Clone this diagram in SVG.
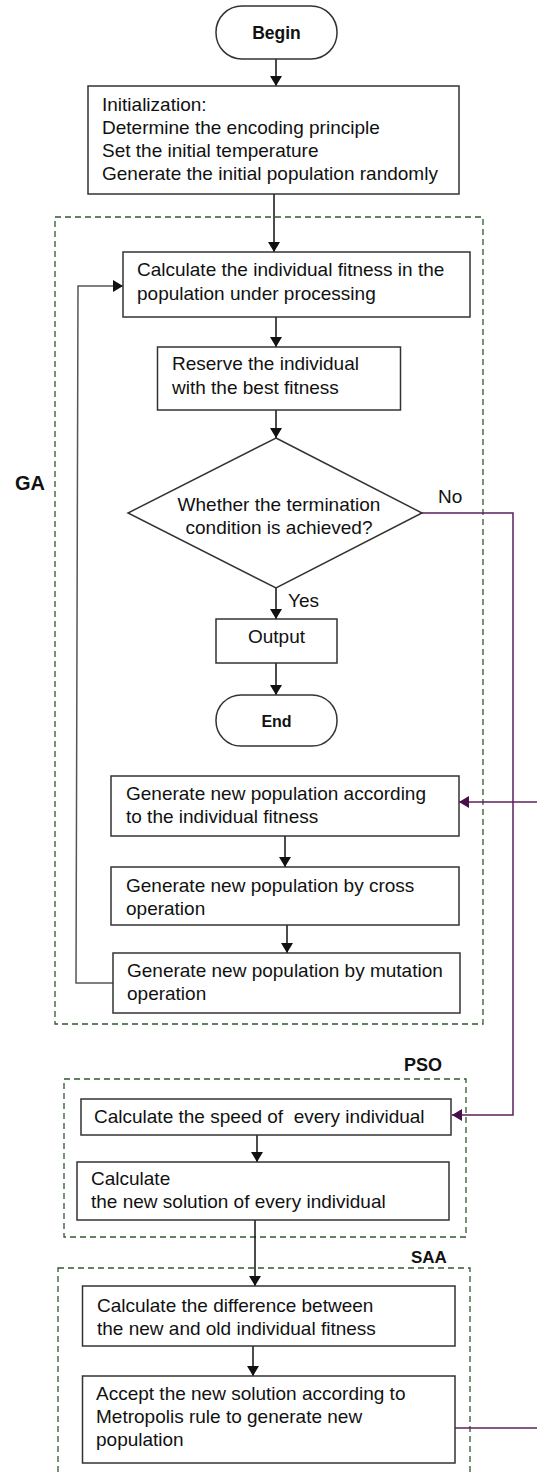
<svg xmlns="http://www.w3.org/2000/svg" width="537" height="1474" viewBox="0 0 537 1474">
<defs>
<style>
.box{fill:#fff;stroke:#333;stroke-width:1.5}
.grp{fill:none;stroke:#2f5a2f;stroke-width:1.3;stroke-dasharray:6,4}
.t{font-family:"Liberation Sans",Arial,sans-serif;font-size:19px;fill:#111}
.b{font-family:"Liberation Sans",Arial,sans-serif;font-weight:bold;fill:#111}
.c{fill:none;stroke:#111;stroke-width:1.5}
.g{fill:none;stroke:#555;stroke-width:1.5}
.p{fill:none;stroke:#5c1f5c;stroke-width:1.5}
</style>
<marker id="ah" viewBox="0 0 10 12" refX="10" refY="6" markerWidth="10" markerHeight="12" markerUnits="userSpaceOnUse" orient="auto"><path d="M0,0 L10,6 L0,12 z" fill="#111"/></marker>
<marker id="ap" viewBox="0 0 10 12" refX="10" refY="6" markerWidth="10" markerHeight="12" markerUnits="userSpaceOnUse" orient="auto"><path d="M0,0 L10,6 L0,12 z" fill="#4a0f4a"/></marker>
</defs>
<rect width="537" height="1474" fill="#fff"/>

<g id="groups">
<rect id="ga-group" class="grp" x="55" y="217" width="428" height="807"/>
<text class="b" x="15" y="490" font-size="20">GA</text>
<rect id="pso-group" class="grp" x="64" y="1079" width="402" height="158"/>
<text class="b" x="404" y="1071" font-size="18">PSO</text>
<rect id="saa-group" class="grp" x="58" y="1268" width="412" height="220"/>
<text class="b" x="411" y="1263" font-size="17">SAA</text>
</g>

<g id="connectors">
<line class="c" x1="276" y1="59" x2="276" y2="86" marker-end="url(#ah)"/>
<line class="c" x1="274" y1="194" x2="274" y2="252" marker-end="url(#ah)"/>
<line class="c" x1="276" y1="317" x2="276" y2="347" marker-end="url(#ah)"/>
<line class="c" x1="276" y1="410" x2="276" y2="438" marker-end="url(#ah)"/>
<line class="c" x1="276" y1="588" x2="276" y2="619" marker-end="url(#ah)"/>
<line class="c" x1="276" y1="663" x2="276" y2="695" marker-end="url(#ah)"/>
<line class="c" x1="285" y1="836" x2="285" y2="867" marker-end="url(#ah)"/>
<line class="c" x1="287" y1="925" x2="287" y2="953" marker-end="url(#ah)"/>
<polyline class="g" points="113,983 76,983 78,286 123,286" marker-end="url(#ah)"/>
<polyline class="p" points="422,513 513,513 513,1115 452,1115" marker-end="url(#ap)"/>
<line class="p" x1="540" y1="802" x2="459" y2="802" marker-end="url(#ap)"/>
<line class="c" x1="257" y1="1135" x2="257" y2="1162" marker-end="url(#ah)"/>
<line class="c" x1="255" y1="1220" x2="255" y2="1286" marker-end="url(#ah)"/>
<line class="c" x1="253" y1="1346" x2="253" y2="1376" marker-end="url(#ah)"/>
<line class="p" x1="455" y1="1428" x2="540" y2="1428"/>
<text class="t" x="438" y="503">No</text>
<text class="t" x="288" y="607">Yes</text>
</g>

<g id="begin">
<rect class="box" x="216" y="6" width="121" height="53" rx="26"/>
<text class="b" x="276.5" y="39" font-size="17.5" text-anchor="middle">Begin</text>
</g>
<g id="init">
<rect class="box" x="88" y="86" width="371" height="108"/>
<text class="t" x="102" y="111">Initialization:</text>
<text class="t" x="102" y="134">Determine the encoding principle</text>
<text class="t" x="102" y="157">Set the initial temperature</text>
<text class="t" x="102" y="180">Generate the initial population randomly</text>
</g>
<g id="calc-fitness">
<rect class="box" x="123" y="252" width="347" height="65"/>
<text class="t" x="137" y="276">Calculate the individual fitness in the</text>
<text class="t" x="137" y="300">population under processing</text>
</g>
<g id="reserve">
<rect class="box" x="157.5" y="347" width="243" height="63"/>
<text class="t" x="172" y="370">Reserve the individual</text>
<text class="t" x="172" y="394">with the best fitness</text>
</g>
<g id="decision">
<polygon class="box" points="276,438 422,513 276,588 128,513"/>
<text class="t" x="279" y="511" text-anchor="middle">Whether the termination</text>
<text class="t" x="279" y="534" text-anchor="middle">condition is achieved?</text>
</g>
<g id="output">
<rect class="box" x="216" y="619" width="121" height="44"/>
<text class="t" x="276.5" y="643" text-anchor="middle">Output</text>
</g>
<g id="end">
<rect class="box" x="216" y="695" width="121" height="51" rx="25"/>
<text class="b" x="276.5" y="727" font-size="16" text-anchor="middle">End</text>
</g>
<g id="gen-fitness">
<rect class="box" x="111" y="776" width="348" height="60"/>
<text class="t" x="126" y="800">Generate new population according</text>
<text class="t" x="126" y="823">to the individual fitness</text>
</g>
<g id="gen-cross">
<rect class="box" x="111" y="867" width="348" height="58"/>
<text class="t" x="126" y="892">Generate new population by cross</text>
<text class="t" x="126" y="915">operation</text>
</g>
<g id="gen-mutation">
<rect class="box" x="113" y="953" width="347" height="60"/>
<text class="t" x="127" y="977">Generate new population by mutation</text>
<text class="t" x="127" y="1000">operation</text>
</g>
<g id="pso-speed">
<rect class="box" x="81" y="1099" width="370" height="36"/>
<text class="t" x="94" y="1123" xml:space="preserve">Calculate the speed of  every individual</text>
</g>
<g id="pso-solution">
<rect class="box" x="77" y="1162" width="372" height="58"/>
<text class="t" x="91" y="1185">Calculate</text>
<text class="t" x="91" y="1208">the new solution of every individual</text>
</g>
<g id="saa-diff">
<rect class="box" x="82.5" y="1286" width="372.5" height="60"/>
<text class="t" x="97" y="1312">Calculate the difference between</text>
<text class="t" x="97" y="1335">the new and old individual fitness</text>
</g>
<g id="saa-accept">
<rect class="box" x="82.5" y="1376" width="372.5" height="87"/>
<text class="t" x="96" y="1400">Accept the new solution according to</text>
<text class="t" x="96" y="1423">Metropolis rule to generate new</text>
<text class="t" x="96" y="1446">population</text>
</g>
</svg>
